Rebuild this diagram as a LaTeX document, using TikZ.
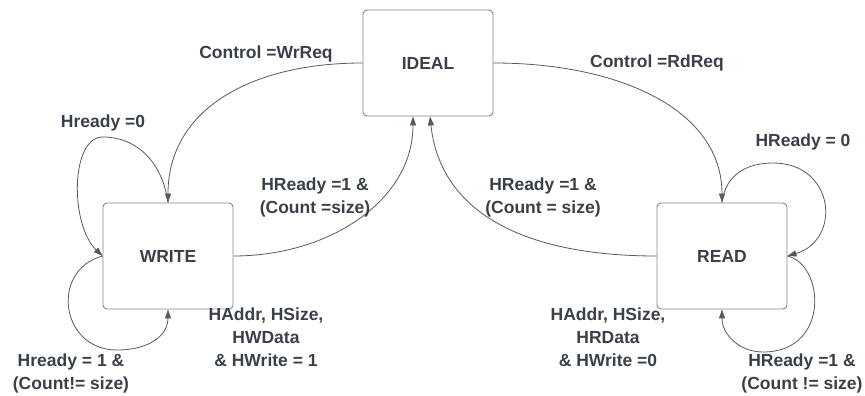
\documentclass[tikz,border=0pt]{standalone}
\usepackage{fontspec}
\setmainfont{Liberation Sans}
\usetikzlibrary{arrows.meta}
\definecolor{txt}{HTML}{3A4049}
\definecolor{ln}{HTML}{555A60}
\definecolor{bx}{HTML}{808488}
\tikzset{
  state/.style={draw=bx, line width=0.9pt, rounded corners=4pt, minimum width=130pt, minimum height=106pt, inner sep=0pt, text=txt, font=\fontsize{17.5}{23}\selectfont\bfseries},
  lbl/.style={text=txt, align=center, inner sep=0pt, font=\fontsize{17.5}{23}\selectfont\bfseries},
  conn/.style={draw=ln, line width=0.8pt, -{Triangle[length=9pt,width=6pt]}}
}
\begin{document}
\begin{tikzpicture}[x=1pt,y=-1pt]
\useasboundingbox (0,0) rectangle (865,396);
\node[state] (ideal) at (428,63) {IDEAL};
\node[state] (write) at (168,256) {WRITE};
\node[state] (read) at (722,256) {READ};

\draw[conn] (ideal.west) .. controls (250,63) and (168,110) .. (write.north);
\draw[conn] (ideal.east) .. controls (620,63) and (722,110) .. (read.north);
\draw[conn] (write.east) .. controls (330,256) and (413,200) .. ([xshift=-15pt]ideal.south);
\draw[conn] (read.west) .. controls (520,256) and (440,210) .. ([xshift=2pt]ideal.south);
\draw[conn] (write.north) .. controls (162,160) and (135,137) .. (103,137) .. controls (70,137) and (70,225) .. (write.west);
\draw[conn] (write.west) .. controls (50,270) and (60,350) .. (117,350) .. controls (150,350) and (168,335) .. (write.south);
\draw[conn] (read.north) .. controls (726,172) and (750,163) .. (773,163) .. controls (835,163) and (842,240) .. (read.east);
\draw[conn] (read.east) .. controls (825,265) and (830,352) .. (763,352) .. controls (740,352) and (722,335) .. (read.south);

\node[lbl] (l1) at (266,54) {Control =WrReq};
\node[lbl] (l2) at (657,63) {Control =RdReq};
\node[lbl] (l3) at (315,197) {HReady =1 \&\\(Count =size)};
\node[lbl] (l4) at (543,197) {HReady =1 \&\\(Count = size)};
\node[lbl] (l5) at (103,123) {Hready =0};
\node[lbl] (l6) at (71,373) {Hready = 1 \&\\(Count!= size)};
\node[lbl] (l7) at (803,142) {HReady = 0};
\node[lbl] (l8) at (802,373) {HReady =1 \&\\(Count != size)};
\node[lbl] (l9) at (266,337) {HAddr, HSize,\\HWData\\\& HWrite = 1};
\node[lbl] (l10) at (608,337) {HAddr, HSize,\\HRData\\\& HWrite =0};
\end{tikzpicture}
\end{document}
